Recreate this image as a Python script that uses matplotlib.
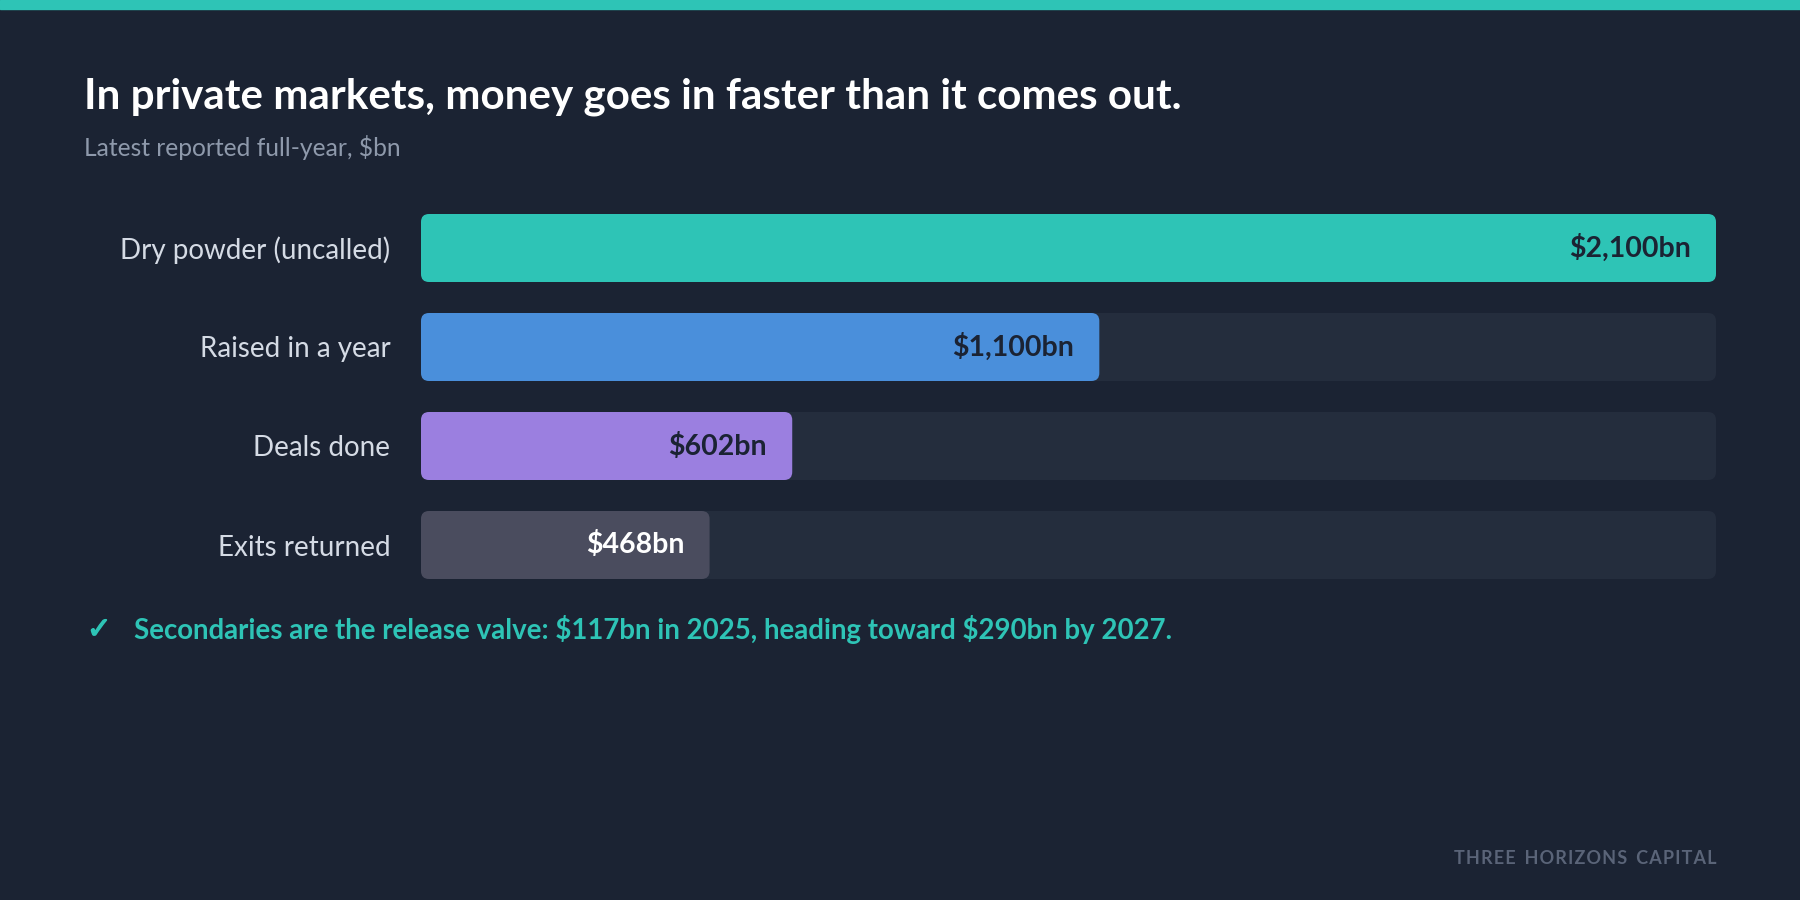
import matplotlib.pyplot as plt
import matplotlib.patheffects as pe
from matplotlib.patches import FancyBboxPatch

categories = ["Dry powder (uncalled)", "Raised in a year", "Deals done", "Exits returned"]
values = [2100, 1100, 602, 468]
value_labels = ["$2,100bn", "$1,100bn", "$602bn", "$468bn"]
bar_colors = ["#2ec4b6", "#4a8fdb", "#9b7fe0", "#4a4c5e"]
label_colors = ["#1b2333", "#1b2333", "#1b2333", "#ffffff"]
max_value = 2100

BG = "#1b2333"
TRACK = "#242d3d"
TEAL = "#2ec4b6"
W, H = 1800, 900

plt.rcParams['font.family'] = ['Lato', 'DejaVu Sans']
plt.rcParams['text.parse_math'] = False

fig = plt.figure(figsize=(18, 9), dpi=100, facecolor=BG)

# teal strip across the top
fig.patches.append(plt.Rectangle((0, 1 - 9 / H), 1, 9 / H, transform=fig.transFigure,
                                 color=TEAL, zorder=0))

fig.text(84 / W, 1 - 97 / H, "In private markets, money goes in faster than it comes out.",
         color="white", fontsize=30.3, fontweight="bold", va="center", ha="left")
fig.text(84 / W, 1 - 148 / H, "Latest reported full-year, $bn",
         color="#8e99ab", fontsize=17.7, va="center", ha="left")

# bar area, pixel layout from the top
left, right = 421, 1716
top, bottom = 198.5, 594.5
ax = fig.add_axes([left / W, 1 - bottom / H, (right - left) / W, (bottom - top) / H])
ax.set_facecolor(BG)
ax.set_xlim(0, max_value)
ax.set_ylim(len(categories) - 0.5, -0.5)
for s in ax.spines.values():
    s.set_visible(False)

bar_h = 68 / 99
# x-data per px vs y-data per px, so the rounded corners stay round
aspect = (1 / 99) / (max_value / (right - left))
r = 8 * max_value / (right - left)

tracks = ax.barh(range(len(categories)), [max_value] * len(categories), height=bar_h)
bars = ax.barh(range(len(categories)), values, height=bar_h)
for group, colors in ((tracks, [TRACK] * len(categories)), (bars, bar_colors)):
    for rect, c in zip(group, colors):
        rect.set_visible(False)
        ax.add_patch(FancyBboxPatch((rect.get_x(), rect.get_y()), rect.get_width(), rect.get_height(),
                                    boxstyle=f"round,pad=0,rounding_size={r}",
                                    mutation_aspect=aspect, facecolor=c, edgecolor="none"))

for i, (v, lab, lc) in enumerate(zip(values, value_labels, label_colors)):
    ax.text(v - 25 * max_value / (right - left), i, lab, ha="right", va="center",
            color=lc, fontsize=20.5, fontweight="bold")

ax.set_yticks(range(len(categories)))
ax.set_yticklabels(categories, fontsize=20, color="#d5dbe5")
ax.tick_params(axis="y", length=0, pad=22)
ax.set_xticks([])

fig.text(87 / W, 1 - 630 / H, "\u2713", color=TEAL, fontsize=21,
         family=['DejaVu Sans'], va="center", ha="left",
         path_effects=[pe.withStroke(linewidth=1.0, foreground=TEAL)])
fig.text(134 / W, 1 - 630 / H,
         "Secondaries are the release valve: $117bn in 2025, heading toward $290bn by 2027.",
         color=TEAL, fontsize=19.9, fontweight="bold", va="center", ha="left")

footer = "\u200a".join("THREE HORIZONS CAPITAL").replace("\u200a \u200a", "\u2009 \u2009")
fig.text(1716 / W, 1 - 859 / H, footer,
         color="#5a6478", fontsize=13, fontweight="bold", va="center", ha="right")

fig.savefig("out.png", dpi=100, facecolor=BG)
